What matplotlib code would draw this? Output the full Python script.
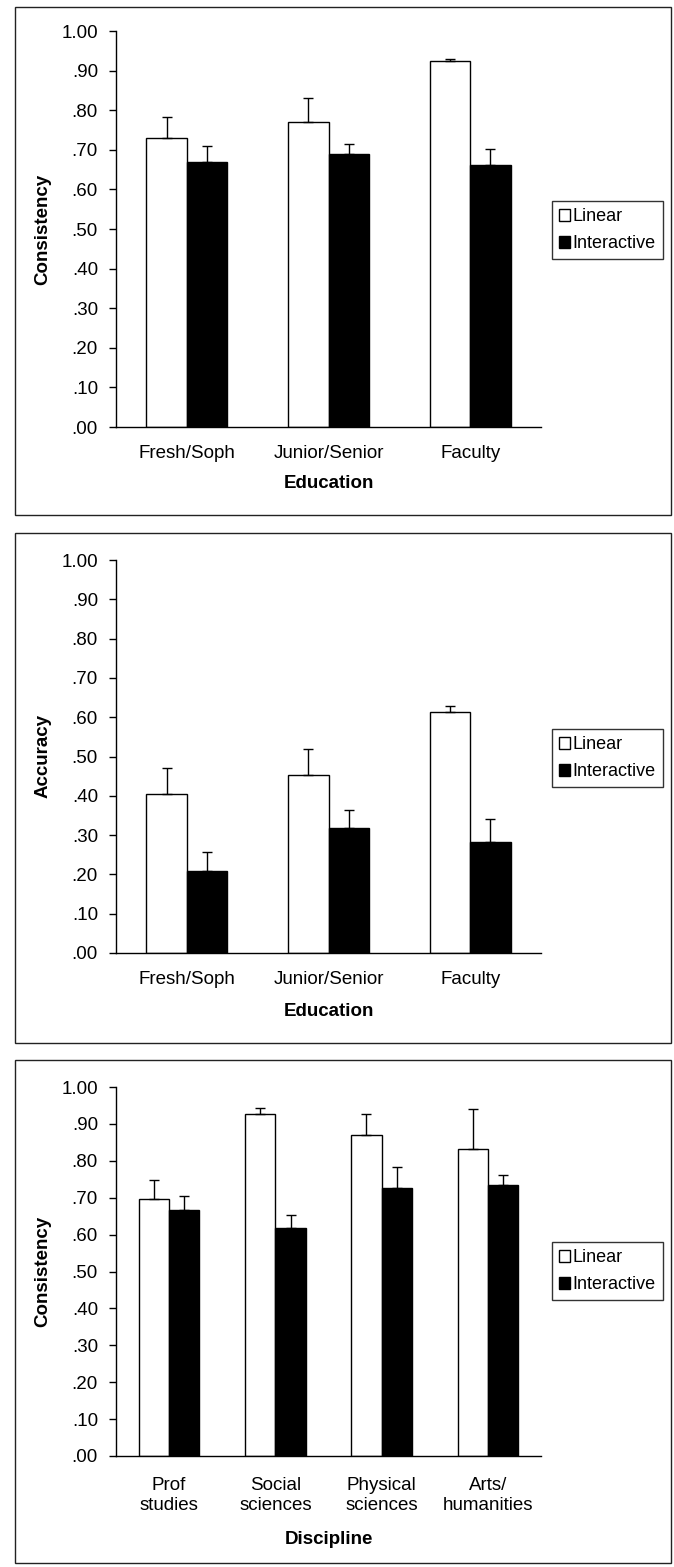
import matplotlib
matplotlib.use("Agg")
import matplotlib.pyplot as plt
from matplotlib.patches import Rectangle, Patch
import numpy as np

plt.rcParams['font.family'] = ['Liberation Sans', 'DejaVu Sans']

# data
edu_groups = ['Fresh/Soph', 'Junior/Senior', 'Faculty']
cons_linear = [0.731, 0.770, 0.924]
cons_linear_err = [0.051, 0.061, 0.005]
cons_inter = [0.668, 0.689, 0.662]
cons_inter_err = [0.041, 0.026, 0.040]

acc_linear = [0.404, 0.452, 0.614]
acc_linear_err = [0.068, 0.067, 0.014]
acc_inter = [0.208, 0.317, 0.283]
acc_inter_err = [0.048, 0.046, 0.059]

disc_groups = ['Prof\nstudies', 'Social\nsciences', 'Physical\nsciences', 'Arts/\nhumanities']
disc_linear = [0.696, 0.927, 0.869, 0.833]
disc_linear_err = [0.051, 0.016, 0.059, 0.108]
disc_inter = [0.667, 0.619, 0.725, 0.734]
disc_inter_err = [0.037, 0.035, 0.058, 0.027]

series_names = ['Linear', 'Interactive']
yticks = np.arange(0, 1.01, 0.1)

W, H = 674, 1567
fig = plt.figure(figsize=(W / 100, H / 100), dpi=100)


def fig_box(left, top, right, bottom):
    # pixel box -> figure fraction [x0, y0, w, h]
    return [left / W, 1 - bottom / H, (right - left) / W, (bottom - top) / H]


def tick_fmt(v):
    return '1.00' if v >= 0.995 else ('%.2f' % v)[1:]


def draw_panel(frame, axbox, legend_top, groups, lin, lin_err, inter, inter_err,
               ylabel, xlabel, ylab_x, xlab_y, xpad):
    fl, ft, fr, fb = frame
    fig.patches.append(Rectangle((fl / W, 1 - fb / H), (fr - fl) / W, (fb - ft) / H,
                                 transform=fig.transFigure, fill=False,
                                 edgecolor='#222222', linewidth=1.0))
    ax = fig.add_axes(fig_box(*axbox))
    x = np.arange(len(groups))
    w = 1 / 3.5
    ax.bar(x - w / 2, lin, w, color='white', edgecolor='black', linewidth=1.0,
           label=series_names[0], zorder=2)
    ax.bar(x + w / 2, inter, w, color='black', edgecolor='black', linewidth=1.0,
           label=series_names[1], zorder=2)
    ax.errorbar(x - w / 2, lin, yerr=[np.zeros(len(lin)), lin_err], fmt='none',
                ecolor='black', elinewidth=1.0, capsize=3.5, capthick=1.0, zorder=3)
    ax.errorbar(x + w / 2, inter, yerr=[np.zeros(len(inter)), inter_err], fmt='none',
                ecolor='black', elinewidth=1.0, capsize=3.5, capthick=1.0, zorder=3)

    ax.set_xlim(-0.5, len(groups) - 0.5)
    ax.set_ylim(0, 1.0)
    ax.set_yticks(yticks)
    ax.set_yticklabels([tick_fmt(v) for v in yticks], fontsize=13.5)
    ax.set_xticks(x)
    ax.set_xticklabels(groups, fontsize=13.5, linespacing=1.25)
    ax.tick_params(axis='x', length=0, pad=xpad)
    ax.tick_params(axis='y', direction='out', length=5, width=1, pad=8)
    for s in ['top', 'right']:
        ax.spines[s].set_visible(False)
    ax.spines['left'].set_linewidth(1.0)
    ax.spines['bottom'].set_linewidth(1.0)

    axl, axt, axr, axb = axbox
    ax.set_ylabel(ylabel, fontsize=13.5, fontweight='bold')
    ax.yaxis.set_label_coords((ylab_x - axl) / (axr - axl), 0.5)
    ax.yaxis.label.set_va('center')
    ax.set_xlabel(xlabel, fontsize=13.5, fontweight='bold')
    ax.xaxis.set_label_coords(0.5, (axb - xlab_y) / (axb - axt))
    ax.xaxis.label.set_va('center')

    handles = [Patch(facecolor='white', edgecolor='black', linewidth=1.0),
               Patch(facecolor='black', edgecolor='black', linewidth=1.0)]
    leg = ax.legend(handles, series_names, loc='upper left',
                    bbox_to_anchor=(552 / W, 1 - legend_top / H),
                    bbox_transform=fig.transFigure, fontsize=13,
                    frameon=True, fancybox=False, shadow=False,
                    handlelength=0.6, handleheight=0.6, handletextpad=0.15,
                    labelspacing=0.55, borderpad=0.4, borderaxespad=0)
    leg.get_frame().set_edgecolor('black')
    leg.get_frame().set_linewidth(1.0)
    return ax


draw_panel((15, 7, 671, 515), (116, 31, 541, 427), 201, edu_groups,
           cons_linear, cons_linear_err, cons_inter, cons_inter_err,
           'Consistency', 'Education', 43, 484, 13)
draw_panel((15, 533, 671, 1043), (116, 560, 541, 953), 729, edu_groups,
           acc_linear, acc_linear_err, acc_inter, acc_inter_err,
           'Accuracy', 'Education', 43, 1012, 13)
draw_panel((15, 1060, 671, 1563), (116, 1087, 541, 1456), 1242, disc_groups,
           disc_linear, disc_linear_err, disc_inter, disc_inter_err,
           'Consistency', 'Discipline', 43, 1539, 15)

fig.savefig('out.png', dpi=100, facecolor='white')
